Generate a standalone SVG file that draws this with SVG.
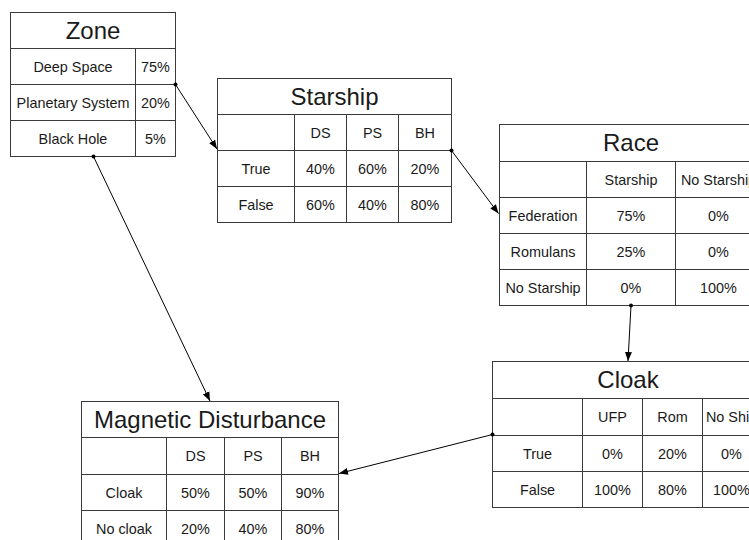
<svg xmlns="http://www.w3.org/2000/svg" width="749" height="540" viewBox="0 0 749 540">
<defs>
<marker id="arr" markerWidth="10" markerHeight="8" refX="9" refY="4" orient="auto" markerUnits="userSpaceOnUse">
<path d="M0,0.5 L9,4 L0,7.5 Z" fill="#000"/>
</marker>
<style>
.box{fill:#fff;stroke:#3a3a3a;stroke-width:1}
.ln{stroke:#3a3a3a;stroke-width:1;fill:none}
.t{font-family:"Liberation Sans",Arial,sans-serif;font-size:24px;fill:#1a1a1a;text-anchor:middle}
.c{font-family:"Liberation Sans",Arial,sans-serif;font-size:14.4px;fill:#1a1a1a;text-anchor:middle}
.con{stroke:#000;stroke-width:1;fill:none;marker-end:url(#arr)}
.dot{fill:#000}
</style>
</defs>
<rect width="749" height="540" fill="#fff"/>

<g id="zone">
<rect class="box" x="10.5" y="12.5" width="165" height="144"/>
<path class="ln" d="M10.5,48.5H175.5M10.5,84.5H175.5M10.5,120.5H175.5M135.5,48.5V156.5"/>
<text class="t" x="93" y="38.5">Zone</text>
<text class="c" x="73" y="71.5">Deep Space</text><text class="c" x="155.5" y="71.5">75%</text>
<text class="c" x="73" y="107.5">Planetary System</text><text class="c" x="155.5" y="107.5">20%</text>
<text class="c" x="73" y="143.5">Black Hole</text><text class="c" x="155.5" y="143.5">5%</text>
</g>

<g id="starship">
<rect class="box" x="217.5" y="78.5" width="234" height="144"/>
<path class="ln" d="M217.5,114.5H451.5M217.5,150.5H451.5M217.5,186.5H451.5M294.5,114.5V222.5M346.5,114.5V222.5M398.5,114.5V222.5"/>
<text class="t" x="334.5" y="104.5">Starship</text>
<text class="c" x="320.5" y="137.5">DS</text><text class="c" x="372.5" y="137.5">PS</text><text class="c" x="425" y="137.5">BH</text>
<text class="c" x="256" y="173.5">True</text><text class="c" x="320.5" y="173.5">40%</text><text class="c" x="372.5" y="173.5">60%</text><text class="c" x="425" y="173.5">20%</text>
<text class="c" x="256" y="209.5">False</text><text class="c" x="320.5" y="209.5">60%</text><text class="c" x="372.5" y="209.5">40%</text><text class="c" x="425" y="209.5">80%</text>
</g>

<g id="race">
<rect class="box" x="499.5" y="124.5" width="263" height="181"/>
<path class="ln" d="M499.5,161.5H762.5M499.5,197.5H762.5M499.5,233.5H762.5M499.5,269.5H762.5M586.5,161.5V305.5M675.5,161.5V305.5"/>
<text class="t" x="631" y="151">Race</text>
<text class="c" x="631" y="184.5">Starship</text><text class="c" x="718.5" y="184.5">No Starship</text>
<text class="c" x="543" y="220.5">Federation</text><text class="c" x="631" y="220.5">75%</text><text class="c" x="718.5" y="220.5">0%</text>
<text class="c" x="543" y="256.5">Romulans</text><text class="c" x="631" y="256.5">25%</text><text class="c" x="718.5" y="256.5">0%</text>
<text class="c" x="543" y="292.5">No Starship</text><text class="c" x="631" y="292.5">0%</text><text class="c" x="718.5" y="292.5">100%</text>
</g>

<g id="cloak">
<rect class="box" x="492.5" y="361.5" width="271" height="146"/>
<path class="ln" d="M492.5,398.5H763.5M492.5,435.5H763.5M492.5,471.5H763.5M582.5,398.5V507.5M642.5,398.5V507.5M702.5,398.5V507.5"/>
<text class="t" x="628" y="388">Cloak</text>
<text class="c" x="612.5" y="422">UFP</text><text class="c" x="672.5" y="422">Rom</text><text class="c" x="731.5" y="422">No Ship</text>
<text class="c" x="537.5" y="458.5">True</text><text class="c" x="612.5" y="458.5">0%</text><text class="c" x="672.5" y="458.5">20%</text><text class="c" x="731.5" y="458.5">0%</text>
<text class="c" x="537.5" y="494.5">False</text><text class="c" x="612.5" y="494.5">100%</text><text class="c" x="672.5" y="494.5">80%</text><text class="c" x="731.5" y="494.5">100%</text>
</g>

<g id="magnetic-disturbance">
<rect class="box" x="81.5" y="401.5" width="257" height="145"/>
<path class="ln" d="M81.5,437.5H338.5M81.5,474.5H338.5M81.5,510.5H338.5M166.5,437.5V546.5M224.5,437.5V546.5M281.5,437.5V546.5"/>
<text class="t" x="210" y="427.5">Magnetic Disturbance</text>
<text class="c" x="195.5" y="461">DS</text><text class="c" x="253" y="461">PS</text><text class="c" x="310" y="461">BH</text>
<text class="c" x="124" y="497.5">Cloak</text><text class="c" x="195.5" y="497.5">50%</text><text class="c" x="253" y="497.5">50%</text><text class="c" x="310" y="497.5">90%</text>
<text class="c" x="124" y="533.5">No cloak</text><text class="c" x="195.5" y="533.5">20%</text><text class="c" x="253" y="533.5">40%</text><text class="c" x="310" y="533.5">80%</text>
</g>

<g id="connectors">
<line class="con" x1="175.5" y1="84.5" x2="217" y2="149"/>
<circle class="dot" cx="175.5" cy="84.5" r="2"/>
<line class="con" x1="451.5" y1="150.5" x2="498.5" y2="213.5"/>
<circle class="dot" cx="451.5" cy="150.5" r="2"/>
<line class="con" x1="631" y1="305.5" x2="628" y2="361"/>
<circle class="dot" cx="631" cy="305.5" r="2"/>
<line class="con" x1="492.5" y1="434.5" x2="339" y2="473.5"/>
<circle class="dot" cx="492.5" cy="434.5" r="2"/>
<line class="con" x1="93.5" y1="156.5" x2="210" y2="401"/>
<circle class="dot" cx="93.5" cy="156.5" r="2"/>
</g>
</svg>
